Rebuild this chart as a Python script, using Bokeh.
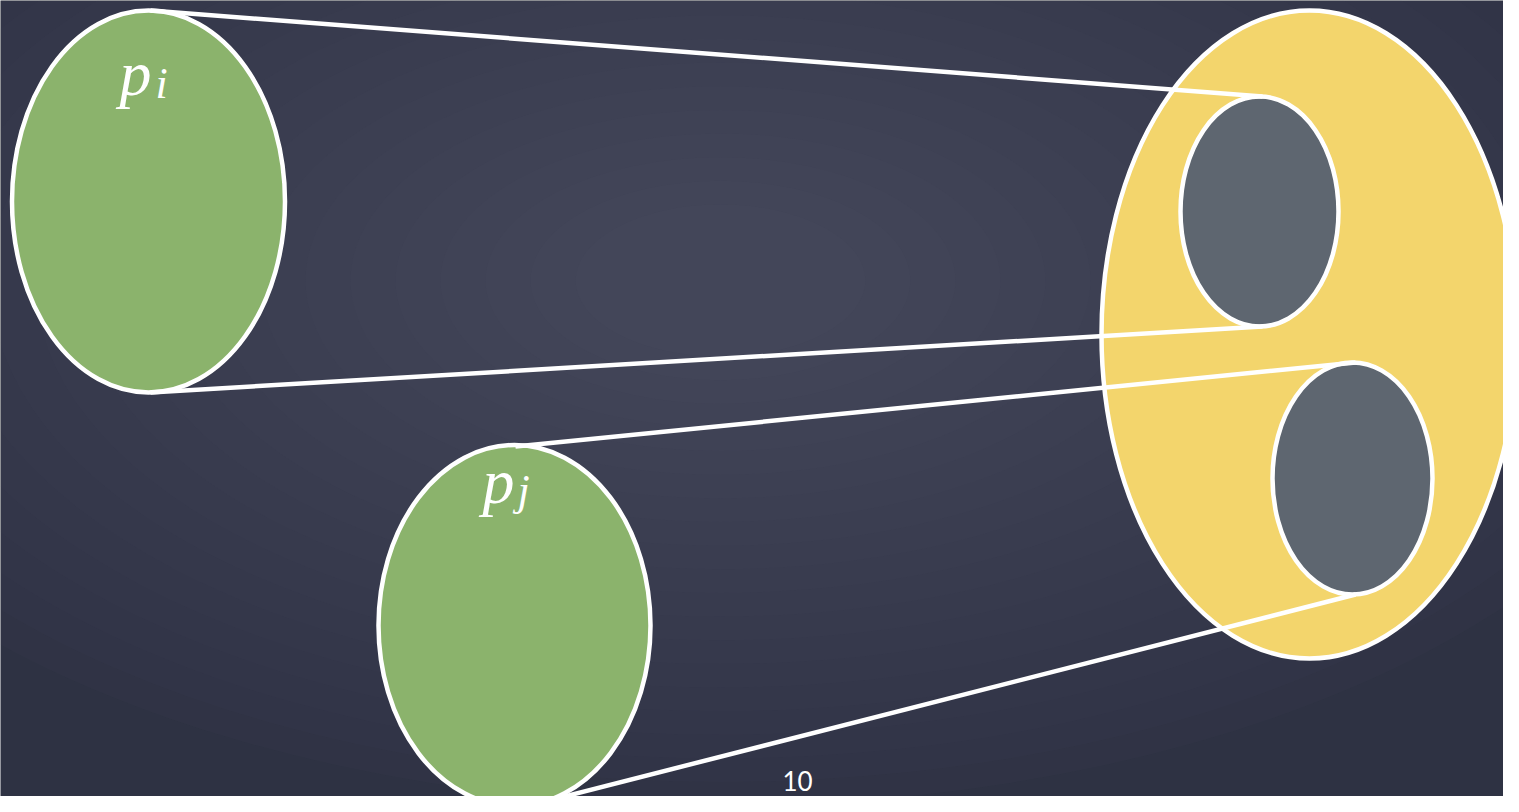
from bokeh.plotting import figure
from bokeh.models import Range1d
from bokeh.core.properties import value
from bokeh.embed import file_html
from bokeh.resources import INLINE

# --- diagram data (pixel coordinates of the reference slide) ---
shape_names = ["p_i", "p_j", "set", "sub_a", "sub_b"]
shape_cx = [148, 514, 1309, 1259, 1352]
shape_cy = [201, 625, 334, 211, 478]
shape_w = [273, 272, 416, 158, 160]
shape_h = [382, 361, 648, 230, 232]
shape_fill = ["#8bb36c", "#8bb36c", "#f3d56c", "#5e6670", "#5e6670"]

line_x0 = [150, 150, 515, 525]
line_y0 = [10, 392, 446, 806]
line_x1 = [1262, 1262, 1355, 1355]
line_y1 = [96, 326, 362, 594]

label_base = ["p", "p"]
label_base_x = [119, 482]
label_base_y = [73, 481]
label_sub = ["i", "j"]
label_sub_x = [155, 517]
label_sub_y = [83, 490]

page_number = "10"

W, H = 1503, 796
BG = "#2e3243"
p = figure(width=W, height=H, output_backend="svg", toolbar_location=None,
           x_range=Range1d(0, W), y_range=Range1d(H, 0),
           min_border=0, background_fill_color=BG,
           border_fill_color=BG, outline_line_color=None)
p.axis.visible = False
p.grid.visible = False

# soft lighter centre of the chalkboard background (many faint layers)
n_glow = 20
glow_scale = [1.0 - k * 0.045 for k in range(n_glow)]
p.ellipse(x=[720] * n_glow, y=[280] * n_glow,
          width=[2000 * s for s in glow_scale], height=[1050 * s for s in glow_scale],
          fill_color="#5c647c", fill_alpha=0.045, line_color=None)

# big yellow set first, then the sub-ellipses, then the green ones
order = [2, 3, 4, 0, 1]
p.ellipse(x=[shape_cx[i] for i in order], y=[shape_cy[i] for i in order],
          width=[shape_w[i] for i in order], height=[shape_h[i] for i in order],
          fill_color=[shape_fill[i] for i in order], line_color="white",
          line_width=4.5)

p.segment(x0=line_x0, y0=line_y0, x1=line_x1, y1=line_y1,
          line_color="white", line_width=4.5)

p.text(x=label_base_x, y=label_base_y, text=label_base,
       text_font=value("Liberation Serif"), text_font_style="italic",
       text_font_size="64px", text_color="white",
       text_baseline="alphabetic", text_align="left")
p.text(x=label_sub_x, y=label_sub_y, text=label_sub,
       text_font=value("Liberation Serif"), text_font_style="italic",
       text_font_size="44px", text_color="white", text_baseline="alphabetic",
       text_align="left")

p.text(x=[797], y=[770], text=[page_number], text_font=value("Lato"),
       text_font_size="26px", text_color="white", text_baseline="top",
       text_align="center")

open("out.html", "w").write(file_html(p, INLINE))
